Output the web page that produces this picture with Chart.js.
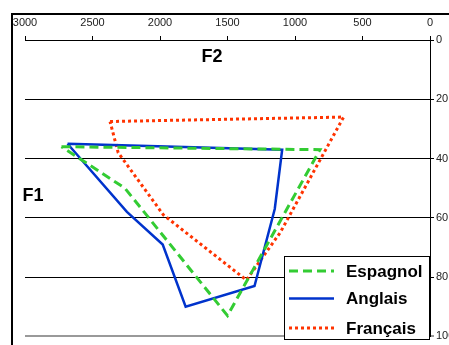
<!DOCTYPE html>
<html>
<head>
<meta charset="utf-8">
<script src="https://cdn.jsdelivr.net/npm/chart.js@4/dist/chart.umd.min.js"></script>
<style>
  html, body { margin: 0; padding: 0; background: #fff; }
  #wrap { width: 449px; height: 345px; }
</style>
</head>
<body>
<div id="wrap"><canvas id="chart" width="449" height="345"></canvas></div>
<script>
// F2 (Hz) on the top axis, F1 on the right axis, each polygon closed on its first point
const seriesNames = ['Espagnol', 'Anglais', 'Français'];

const espagnolF2 = [2730, 815, 1500, 2260, 2730];
const espagnolF1 = [36, 37, 93, 50, 36];

const anglaisF2 = [2685, 1095, 1150, 1300, 1810, 1980, 2245, 2685];
const anglaisF1 = [35, 37, 57, 83, 90, 69, 58, 35];

const francaisF2 = [2370, 640, 1110, 1360, 1975, 2310, 2370];
const francaisF1 = [27.5, 26, 65, 81, 59, 38, 27.5];

const f2Ticks = [0, 500, 1000, 1500, 2000, 2500, 3000];
const f1Ticks = [0, 20, 40, 60, 80, 100];

function toPoints(xs, ys) {
    return xs.map((x, i) => ({ x: x, y: ys[i] }));
}

const styles = [
    { color: '#33cc33', dash: [9, 5], width: 3 },
    { color: '#0033cc', dash: [], width: 2.5 },
    { color: '#ff3300', dash: [3, 3], width: 3 }
];

const allData = [
    toPoints(espagnolF2, espagnolF1),
    toPoints(anglaisF2, anglaisF1),
    toPoints(francaisF2, francaisF1)
];

const datasets = seriesNames.map((name, i) => ({
    label: name,
    data: allData[i],
    showLine: true,
    fill: false,
    borderColor: styles[i].color,
    borderDash: styles[i].dash,
    borderWidth: styles[i].width,
    borderCapStyle: 'butt',
    pointRadius: 0,
    tension: 0
}));

const decorations = {
    id: 'decorations',
    afterDraw(chart) {
        const ctx = chart.ctx;
        ctx.save();

        // outer frame (left and top edges)
        ctx.strokeStyle = '#000';
        ctx.lineWidth = 2;
        ctx.beginPath();
        ctx.moveTo(12, 345);
        ctx.lineTo(12, 14);
        ctx.lineTo(449, 14);
        ctx.stroke();

        // axis titles
        ctx.fillStyle = '#000';
        ctx.font = 'bold 18px "Liberation Sans", Arial, sans-serif';
        ctx.textAlign = 'center';
        ctx.textBaseline = 'middle';
        ctx.fillText('F2', 212, 57);
        ctx.fillText('F1', 33, 196);

        // legend box
        const bx = 284.5, by = 256.5, bw = 145, bh = 83;
        ctx.fillStyle = '#fff';
        ctx.fillRect(bx, by, bw, bh);
        ctx.lineWidth = 1;
        ctx.strokeStyle = '#000';
        ctx.strokeRect(bx, by, bw, bh);

        const rows = [271, 298.5, 328];
        ctx.font = 'bold 17px "Liberation Sans", Arial, sans-serif';
        ctx.textAlign = 'left';
        seriesNames.forEach((name, i) => {
            const y = rows[i];
            ctx.strokeStyle = styles[i].color;
            ctx.lineWidth = styles[i].width;
            ctx.setLineDash(styles[i].dash);
            ctx.beginPath();
            ctx.moveTo(289, y);
            ctx.lineTo(334, y);
            ctx.stroke();
            ctx.setLineDash([]);
            ctx.fillStyle = '#000';
            ctx.fillText(name, 346, y + 1);
        });

        ctx.restore();
    }
};

new Chart(document.getElementById('chart'), {
    type: 'scatter',
    data: { datasets: datasets },
    options: {
        responsive: false,
        animation: false,
        layout: { padding: { left: 25, right: 0, top: 0, bottom: 5 } },
        plugins: {
            legend: { display: false },
            tooltip: { enabled: false }
        },
        scales: {
            x: {
                type: 'linear',
                position: 'top',
                reverse: true,
                min: 0,
                max: 3000,
                afterBuildTicks: axis => { axis.ticks = f2Ticks.map(v => ({ value: v })); },
                afterFit: scale => { scale.height = 40; },
                ticks: {
                    color: '#222',
                    font: { family: '"Liberation Sans", Arial, sans-serif', size: 11 },
                    padding: 6,
                    maxRotation: 0,
                    callback: v => String(v)
                },
                grid: {
                    drawOnChartArea: false,
                    drawTicks: true,
                    tickLength: 4,
                    color: '#000'
                },
                border: { display: true, color: '#000', width: 1 }
            },
            y: {
                type: 'linear',
                position: 'right',
                reverse: true,
                min: 0,
                max: 100,
                afterBuildTicks: axis => { axis.ticks = f1Ticks.map(v => ({ value: v })); },
                afterFit: scale => { scale.width = 19; },
                ticks: {
                    color: '#222',
                    font: { family: '"Liberation Sans", Arial, sans-serif', size: 11 },
                    padding: 2,
                    callback: v => String(v)
                },
                grid: {
                    drawTicks: true,
                    tickLength: 4,
                    color: c => (c.tick && c.tick.value === 100) ? '#999' : '#000',
                    lineWidth: c => (c.tick && c.tick.value === 100) ? 2 : 1
                },
                border: { display: true, color: '#000', width: 1 }
            }
        }
    },
    plugins: [decorations]
});
</script>
</body>
</html>
